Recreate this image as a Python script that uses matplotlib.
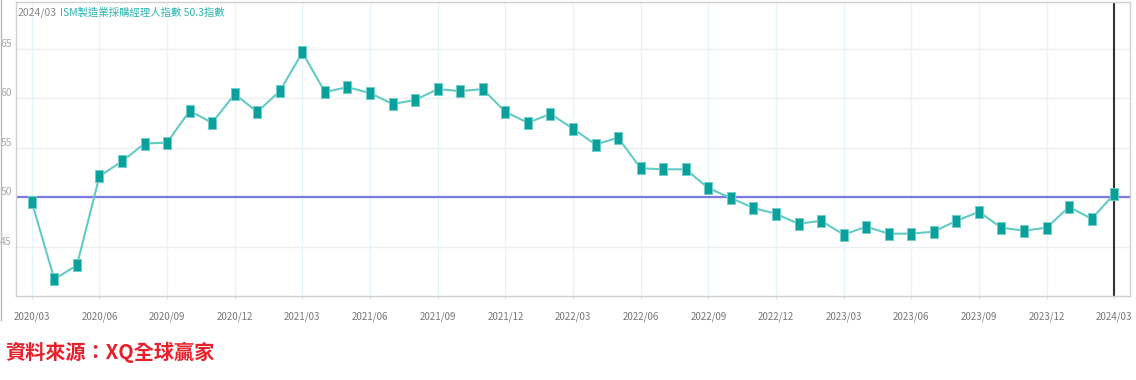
import numpy as np
import matplotlib
matplotlib.use('Agg')
import matplotlib.pyplot as plt

plt.rcParams['font.family'] = ['Noto Sans CJK TC', 'DejaVu Sans']

#ISM manufacturing PMI, monthly from 2020/03 to 2024/03
pmi = [49.5, 41.7, 43.1, 52.1, 53.6, 55.4, 55.5, 58.7, 57.5, 60.4,
       58.6, 60.7, 64.6, 60.6, 61.1, 60.5, 59.4, 59.8, 60.9, 60.7,
       60.9, 58.6, 57.5, 58.4, 56.9, 55.3, 56.0, 52.9, 52.8, 52.8,
       50.9, 49.9, 48.9, 48.3, 47.3, 47.6, 46.2, 47.0, 46.3, 46.3,
       46.5, 47.6, 48.5, 46.9, 46.6, 46.9, 49.0, 47.8, 50.3]
xlabels = ['2020/03', '2020/06', '2020/09', '2020/12', '2021/03', '2021/06',
           '2021/09', '2021/12', '2022/03', '2022/06', '2022/09', '2022/12',
           '2023/03', '2023/06', '2023/09', '2023/12', '2024/03']
yticks = [45, 50, 55, 60, 65]
ref_level = 50

x = np.arange(len(pmi))

fig = plt.figure(figsize=(11.36, 3.8), dpi=100)
ax = fig.add_axes([16/1136, 1 - 296/380, 1114/1136, 294/380])

#grid
for t in yticks:
    ax.axhline(t, color='#efefef', lw=1, zorder=0)
for xt in x[::3]:
    ax.axvline(xt, color='#e6f4fb', lw=1, zorder=0)

ax.axhline(ref_level, color='#7b7be6', lw=1.6, zorder=1)
ax.axvline(x[-1], color='#333333', lw=1.5, zorder=1)

#tall rectangle marker
rect = [(-0.75, -1), (0.75, -1), (0.75, 1), (-0.75, 1), (-0.75, -1)]
ax.plot(x, pmi, color='#62cbc6', lw=1.5, zorder=2)
ax.plot(x, pmi, ls='none', marker=rect, ms=8, mfc='#0aa09c', mec='#6fcfcb',
        mew=0.7, zorder=3)

ax.set_xlim(-0.7, 48.7)
ax.set_ylim(40, 69.7)
ax.set_xticks(x[::3])
ax.set_xticklabels(xlabels, fontsize=7, color='#777777')
ax.set_yticks(yticks)
ax.set_yticklabels([str(t) for t in yticks], fontsize=7.5, color='#aaaaaa', va='bottom')
ax.tick_params(axis='x', length=2, color='#dddddd', pad=9)
ax.tick_params(axis='y', length=0, pad=3)
for s in ax.spines.values():
    s.set_color('#d0d0d0')
    s.set_linewidth(1)

fig.text(18/1136, 1 - 13/380, '2024/03', fontsize=7.5, color='#888888', va='center')
fig.text(60/1136, 1 - 13/380, 'ISM製造業採購經理人指數 50.3指數', fontsize=7.5,
         color='#2bb3b0', va='center')

fig.text(5/1136, 1 - 352/380, '資料來源：XQ全球贏家', fontsize=14.5, color='#e8202a',
         fontweight='bold', va='center')

#outer border on the left
fig.add_artist(plt.Line2D([0.5/1136, 0.5/1136], [1 - 320/380, 1], color='#bbbbbb', lw=1))

fig.savefig('out.png', dpi=100)
